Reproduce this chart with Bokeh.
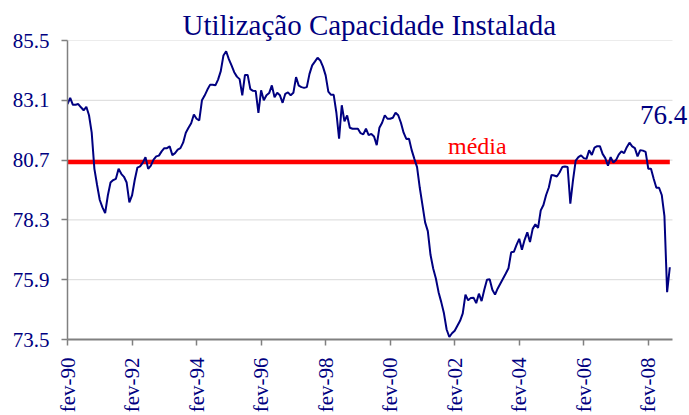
import numpy as np
from bokeh.plotting import figure
from bokeh.models import Range1d, FixedTicker, Label, ColumnDataSource, Title
from bokeh.embed import file_html
from bokeh.resources import INLINE

title_text = "Utilização Capacidade Instalada"

# month index: 0 = fev-90
nuci = [
    82.95, 83.2, 82.92, 82.92, 82.95, 82.82, 82.7, 82.84, 82.5, 81.8, 80.35, 79.7,
    79.1, 78.8, 78.57, 79.28, 79.8, 79.9, 79.95, 80.35, 80.15, 80.03, 79.8, 79.0,
    79.28, 79.9, 80.4, 80.45, 80.6, 80.82, 80.35, 80.48, 80.72, 80.85, 80.88, 81.05,
    81.18, 81.18, 81.25, 80.9, 80.98, 81.12, 81.18, 81.4, 81.8, 82.0, 82.18, 82.53,
    82.36, 82.29, 83.1, 83.29, 83.52, 83.72, 83.72, 83.7, 83.93, 84.27, 84.9, 85.07,
    84.75, 84.5, 84.23, 84.05, 83.95, 83.3, 84.12, 84.12, 83.55, 83.48, 83.47, 82.6,
    83.5, 83.1, 83.3, 83.39, 83.7, 83.22, 83.4, 83.3, 83.0, 83.36, 83.42, 83.3,
    83.4, 84.03, 83.69, 83.63, 83.6, 83.63, 84.16, 84.5, 84.65, 84.81, 84.7, 84.45,
    84.1, 83.45, 83.32, 83.32, 82.6, 81.56, 82.9, 82.26, 82.49, 82.0, 81.96, 81.96,
    81.96, 81.78, 81.73, 81.96, 81.7, 81.75, 81.65, 81.3, 82.0, 82.2, 82.5, 82.36,
    82.36, 82.4, 82.6, 82.5, 82.2, 81.8, 81.55, 81.56, 81.1, 80.75, 80.42, 79.6,
    78.9, 78.2, 77.85, 76.9, 76.35, 75.95, 75.4, 75.0, 74.55, 73.9, 73.6, 73.75,
    73.85, 74.05, 74.25, 74.55, 75.3, 75.07, 75.17, 75.18, 74.96, 75.34, 75.04, 75.5,
    75.9, 75.92, 75.5, 75.3, 75.55, 75.75, 75.95, 76.15, 76.36, 77.0, 77.02, 77.3,
    77.54, 77.1, 77.5, 77.8, 77.41, 77.94, 78.12, 77.98, 78.68, 78.9, 79.3, 79.6,
    80.1, 80.08, 80.04, 80.2, 80.42, 80.44, 80.42, 78.95, 79.9, 80.68, 80.82, 80.89,
    80.78, 80.75, 81.09, 80.91, 81.2, 81.26, 81.26, 80.95, 80.78, 80.48, 80.82, 80.6,
    80.7, 80.92, 81.05, 80.98, 81.22, 81.4, 81.25, 81.18, 80.85, 81.1, 81.08, 81.03,
    80.35, 80.35, 79.95, 79.59, 79.59, 79.3, 78.45, 75.4, 76.4,
]
months = list(range(len(nuci)))

media = 80.62
media_label = "média"
last_label = "76.4"

x_tick_labels = ["fev-90", "fev-92", "fev-94", "fev-96", "fev-98",
                 "fev-00", "fev-02", "fev-04", "fev-06", "fev-08"]
x_tick_pos = [24 * i for i in range(len(x_tick_labels))]
y_ticks = [73.5, 75.9, 78.3, 80.7, 83.1, 85.5]
y_tick_labels = ["73.5", "75.9", "78.3", "80.7", "83.1", "85.5"]

NAVY = "#000080"
FONT = "Liberation Serif"

X_END = 225.0  # end of the category axis
p = figure(width=689, height=415, output_backend="svg", toolbar_location=None,
           x_range=Range1d(0, X_END * 622 / 605), y_range=Range1d(73.5, 85.5),
           min_border_left=67, min_border_right=0, min_border_top=40,
           min_border_bottom=76)
p.title = Title(text=title_text, align="left", text_font=FONT,
                text_font_size="29px", text_font_style="normal",
                text_color=NAVY, standoff=0, offset=115)
p.outline_line_color = None
p.background_fill_color = "white"
p.border_fill_color = "white"

# horizontal gridlines, limited to the axis extent
p.xgrid.visible = False
p.ygrid.visible = False
grid_src = ColumnDataSource(dict(x0=[0] * (len(y_ticks) - 1),
                                 x1=[X_END] * (len(y_ticks) - 1),
                                 y=y_ticks[1:]))
p.segment(x0="x0", x1="x1", y0="y", y1="y", source=grid_src,
          line_color="#d9d9d9", line_width=1)

# x axis
p.xaxis.bounds = (0, X_END)
p.xaxis.ticker = FixedTicker(ticks=x_tick_pos)
p.xaxis.major_label_overrides = {t: l for t, l in zip(x_tick_pos, x_tick_labels)}
p.xaxis.major_label_orientation = np.pi / 2
p.xaxis.minor_tick_line_color = None
p.xaxis.major_tick_out = 6
p.xaxis.major_tick_in = 0
p.xaxis.axis_line_color = "#808080"
p.xaxis.axis_line_width = 2
p.xaxis.major_tick_line_color = "#808080"
p.xaxis.major_tick_line_width = 1.5
p.xaxis.major_label_text_font = FONT
p.xaxis.major_label_text_font_size = "21px"
p.xaxis.major_label_text_color = NAVY
p.xaxis.major_label_standoff = 12

# y axis
p.yaxis.ticker = FixedTicker(ticks=y_ticks)
p.yaxis.major_label_overrides = {t: l for t, l in zip(y_ticks, y_tick_labels)}
p.yaxis.minor_tick_line_color = None
p.yaxis.major_tick_out = 6
p.yaxis.major_tick_in = 0
p.yaxis.axis_line_color = "#808080"
p.yaxis.axis_line_width = 1.5
p.yaxis.major_tick_line_color = "#808080"
p.yaxis.major_tick_line_width = 1.5
p.yaxis.major_label_text_font = FONT
p.yaxis.major_label_text_font_size = "21px"
p.yaxis.major_label_text_color = NAVY
p.yaxis.major_label_standoff = 12

# média line
p.line(x=[months[0], months[-1]], y=[media, media], line_color="#ff0000",
       line_width=4.5)

src = ColumnDataSource(dict(x=months, y=nuci))
p.line("x", "y", source=src, line_color=NAVY, line_width=2)

p.add_layout(Label(x=152.4, y=81.25, text=media_label, text_font=FONT,
                   text_font_size="24px", text_color="#ff0000",
                   text_align="center", text_baseline="alphabetic"))
p.add_layout(Label(x=212.9, y=82.49, text=last_label, text_font=FONT,
                   text_font_size="27px", text_color=NAVY,
                   text_align="left", text_baseline="alphabetic"))

open("out.html", "w").write(file_html(p, INLINE))
